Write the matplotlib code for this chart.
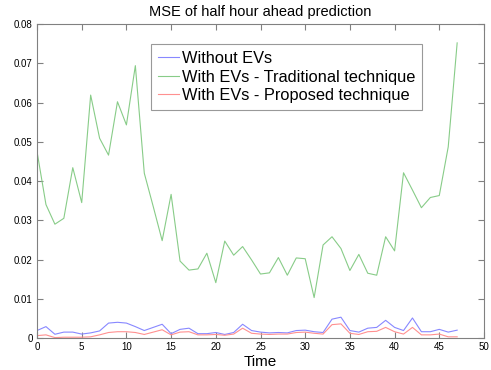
import numpy as np
import matplotlib
matplotlib.use('Agg')
import matplotlib.pyplot as plt

plt.rcParams['font.family'] = ['Liberation Sans', 'DejaVu Sans']

time = list(range(48))

# MSE without EVs
no_ev = [0.0019, 0.0029, 0.00095, 0.0015, 0.0015, 0.0010, 0.0013, 0.0018, 0.0038, 0.0040,
         0.0038, 0.0029, 0.0019, 0.0027, 0.0035, 0.0011, 0.0022, 0.0025, 0.0011, 0.0011,
         0.0014, 0.0009, 0.0014, 0.0035, 0.0019, 0.0015, 0.0013, 0.0014, 0.0013, 0.0019,
         0.0020, 0.0016, 0.0014, 0.0048, 0.0053, 0.0019, 0.0015, 0.0025, 0.0027, 0.0045,
         0.0027, 0.0019, 0.0051, 0.0016, 0.0016, 0.0022, 0.0015, 0.0020]

# MSE with EVs, traditional technique
traditional = [0.0475, 0.0340, 0.0290, 0.0305, 0.0434, 0.0345, 0.0619, 0.0509, 0.0466, 0.0602,
               0.0543, 0.0694, 0.0420, 0.0335, 0.0248, 0.0366, 0.0196, 0.0173, 0.0176, 0.0216,
               0.0141, 0.0247, 0.0211, 0.0233, 0.0199, 0.0163, 0.0166, 0.0205, 0.0160, 0.0204,
               0.0202, 0.0103, 0.0237, 0.0258, 0.0228, 0.0172, 0.0213, 0.0165, 0.0160, 0.0258,
               0.0222, 0.0421, 0.0377, 0.0332, 0.0358, 0.0363, 0.0487, 0.0752]

# MSE with EVs, proposed technique
proposed = [0.0006, 0.0008, 0.0001, 0.0002, 0.0002, 0.0002, 0.0003, 0.0008, 0.0014, 0.0016,
            0.0016, 0.0014, 0.0009, 0.0015, 0.0021, 0.0008, 0.0015, 0.0016, 0.0008, 0.0008,
            0.0009, 0.0007, 0.0010, 0.0025, 0.0012, 0.0010, 0.0009, 0.0010, 0.0010, 0.0014,
            0.0015, 0.0012, 0.0010, 0.0034, 0.0036, 0.0012, 0.0009, 0.0016, 0.0017, 0.0027,
            0.0016, 0.0010, 0.0027, 0.0008, 0.0008, 0.0010, 0.0003, 0.0003]

fig = plt.figure(figsize=(4.91, 3.70), dpi=100)
ax = fig.add_axes([0.0754, 0.0865, 0.9103, 0.8485])

ax.plot(time, no_ev, color='#8888ff', lw=0.8, label='Without EVs')
ax.plot(time, traditional, color='#88cc88', lw=0.8, label='With EVs - Traditional technique')
ax.plot(time, proposed, color='#ff9090', lw=0.8, label='With EVs - Proposed technique')

ax.set_xlim(0, 50)
ax.set_ylim(0, 0.08)
ax.set_xticks(np.arange(0, 51, 5))
ax.set_yticks(np.arange(0, 0.081, 0.01))
ax.set_yticklabels(['0', '0.01', '0.02', '0.03', '0.04', '0.05', '0.06', '0.07', '0.08'])
ax.tick_params(direction='in', top=True, right=True, labelsize=7, length=4,
               color='#808080', pad=3)
for s in ax.spines.values():
    s.set_color('#808080')
    s.set_linewidth(0.8)

ax.set_title('MSE of half hour ahead prediction', fontsize=10.5, pad=6)
ax.set_xlabel('Time', fontsize=11, labelpad=2)

leg = ax.legend(loc='upper left', bbox_to_anchor=(0.255, 0.935), fontsize=11.8,
                frameon=True, fancybox=False, handlelength=1.3, handletextpad=0.2,
                borderpad=0.4, labelspacing=0.22, borderaxespad=0)
leg.get_frame().set_edgecolor('#808080')
leg.get_frame().set_linewidth(0.8)

fig.savefig('out.png', dpi=100)
